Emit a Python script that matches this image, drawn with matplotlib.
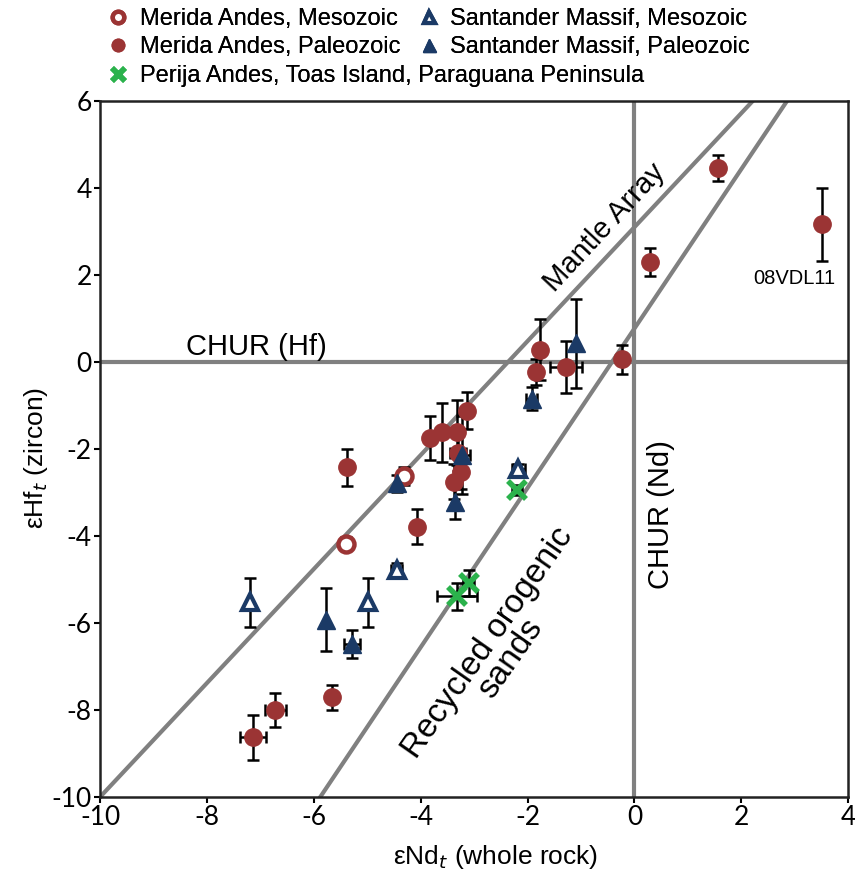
import matplotlib.pyplot as plt
import numpy as np

# Merida Andes, Mesozoic
mm_x = [-5.40, -4.32]
mm_y = [-4.18, -2.62]
mm_xe = [0.0, 0.1]
mm_ye = [0.15, 0.2]

# Merida Andes, Paleozoic
mp_x = [-7.14, -6.72, -5.66, -5.38, -4.07, -3.82, -3.60, -3.32, -3.13, -3.30,
        -3.25, -3.38, -1.76, -1.84, -1.28, -0.23, 0.29, 1.56, 3.51]
mp_y = [-8.63, -8.01, -7.71, -2.42, -3.79, -1.75, -1.62, -1.62, -1.12, -2.10,
        -2.52, -2.75, 0.28, -0.22, -0.12, 0.06, 2.30, 4.47, 3.17]
mp_xe = [0.25, 0.2, 0, 0, 0, 0, 0, 0, 0, 0.15,
         0, 0, 0, 0, 0.3, 0, 0, 0, 0]
mp_ye = [0.52, 0.39, 0.28, 0.43, 0.4, 0.5, 0.67, 0.75, 0.42, 0.4,
         0.4, 0.4, 0.7, 0.3, 0.6, 0.33, 0.33, 0.3, 0.84]

# Santander Massif, Mesozoic
sm_x = [-7.19, -4.98, -4.45, -2.17]
sm_y = [-5.52, -5.52, -4.77, -2.47]
sm_xe = [0, 0, 0.1, 0.12]
sm_ye = [0.56, 0.56, 0.15, 0.12]

# Santander Massif, Paleozoic
sp_x = [-5.77, -5.29, -4.45, -3.23, -3.35, -1.92, -1.09]
sp_y = [-5.92, -6.48, -2.79, -2.14, -3.21, -0.84, 0.43]
sp_xe = [0, 0.15, 0, 0.15, 0, 0.1, 0]
sp_ye = [0.73, 0.32, 0.2, 0.9, 0.4, 0.27, 1.02]

# Perija Andes, Toas Island, Paraguana Peninsula
pe_x = [-3.32, -3.10, -2.20]
pe_y = [-5.39, -5.07, -2.94]
pe_xe = [0.38, 0.1, 0.1]
pe_ye = [0.3, 0.3, 0.12]

red = '#9b3434'
navy = '#1b3a66'
green = '#2bb24c'
grey = '#808080'

plt.rcParams['font.family'] = ['Liberation Sans', 'DejaVu Sans']
plt.rcParams['axes.unicode_minus'] = False

fig = plt.figure(figsize=(8.55, 8.77), dpi=100)
ax = fig.add_axes([0.117, 0.0912, 0.875, 0.7936])

# reference lines
xx = np.array([-12, 6])
ax.plot(xx, 1.31 * xx + 3.1, color=grey, lw=3, zorder=1)
ax.plot(xx, 1.832 * xx + 0.77, color=grey, lw=3, zorder=1)
ax.axhline(0, color=grey, lw=3, zorder=1)
ax.axvline(0, color=grey, lw=3, zorder=1)

eb = dict(fmt='none', ecolor='black', elinewidth=1.8, capsize=4.5, capthick=1.8, zorder=2)
for x, y, xe, ye in [(mm_x, mm_y, mm_xe, mm_ye), (mp_x, mp_y, mp_xe, mp_ye),
                     (sm_x, sm_y, sm_xe, sm_ye), (sp_x, sp_y, sp_xe, sp_ye),
                     (pe_x, pe_y, pe_xe, pe_ye)]:
    xe = np.array(xe, dtype=float)
    ax.errorbar(x, y, yerr=ye, **eb)
    m = xe > 0
    ax.errorbar(np.array(x)[m], np.array(y)[m], xerr=xe[m], **eb)

h1, = ax.plot(mm_x, mm_y, 'o', ms=11.5, mfc='white', mec=red, mew=3.2, zorder=3)
h2, = ax.plot(mp_x, mp_y, 'o', ms=12.5, color=red, zorder=3)
h3, = ax.plot(sm_x, sm_y, '^', ms=11, mfc='white', mec=navy, mew=3, zorder=3)
h4, = ax.plot(sp_x, sp_y, '^', ms=13, color=navy, zorder=3)
h5, = ax.plot(pe_x, pe_y, 'x', ms=13, color=green, mew=4, zorder=3)

ax.set_xlim(-10, 4)
ax.set_ylim(-10, 6)
ax.set_xticks(range(-10, 5, 2))
ax.set_yticks(range(-10, 7, 2))
ax.tick_params(labelsize=19, length=4, width=1.5, direction='out', pad=2)
for t in ax.get_xticklabels() + ax.get_yticklabels():
    t.set_family('Lato')
for s in ax.spines.values():
    s.set_linewidth(1.8)
    s.set_color('#222222')

ax.set_xlabel(r'εNd$_t$ (whole rock)', fontsize=19, va='top')
ax.xaxis.set_label_coords(0.529, -0.066)
ax.set_ylabel(r'εHf$_t$ (zircon)', fontsize=19)
ax.yaxis.set_label_coords(-0.067, 0.487)

ax.text(-8.4, 0.16, 'CHUR (Hf)', fontsize=21, va='baseline', ha='left')
ax.text(0.5, -3.5, 'CHUR (Nd)', fontsize=21, rotation=90, va='center', ha='center')
ax.text(-0.55, 3.1, 'Mantle Array', fontsize=21, rotation=47, va='center', ha='center',
        rotation_mode='anchor')
ax.text(-2.53, -6.64, 'Recycled orogenic\nsands', fontsize=24, rotation=55, va='center',
        ha='center', rotation_mode='anchor', linespacing=0.85)
ax.text(2.99, 1.93, '08VDL11', fontsize=14.5, va='center', ha='center')

# legend entries placed one by one (two columns, third row spans both)
entries = [(h1, 'Merida Andes, Mesozoic', 0.130, 0.978),
           (h3, 'Santander Massif, Mesozoic', 0.493, 0.978),
           (h2, 'Merida Andes, Paleozoic', 0.130, 0.946),
           (h4, 'Santander Massif, Paleozoic', 0.493, 0.946),
           (h5, 'Perija Andes, Toas Island, Paraguana Peninsula', 0.130, 0.913)]
for h, lab, lx, ly in entries:
    lg = fig.legend([h], [lab], loc='center left', bbox_to_anchor=(lx, ly), frameon=False,
                    fontsize=17, handletextpad=0.62, handlelength=0.6, markerscale=0.72,
                    borderaxespad=0, borderpad=0)
    fig.add_artist(lg)

fig.savefig('out.png', dpi=100)
